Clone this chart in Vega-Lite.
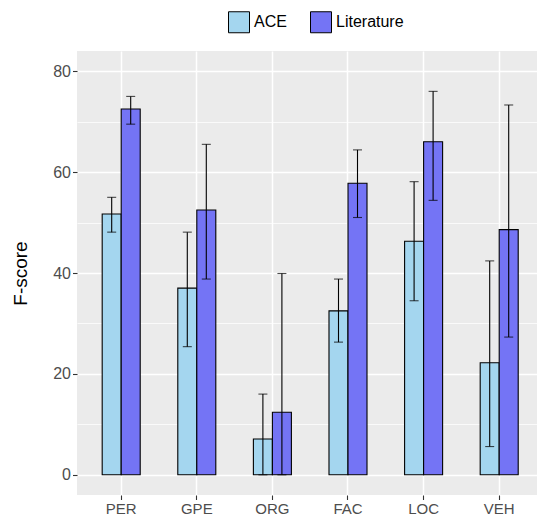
{
  "$schema": "https://vega.github.io/schema/vega-lite/v6.json",
  "autosize": {"type": "none"},
  "padding": {"left": 77, "top": 51, "right": 0, "bottom": 21},
  "width": 460,
  "height": 444,
  "background": "white",
  "config": {
    "view": {"fill": "#EBEBEB", "stroke": null},
    "font": "Liberation Sans"
  },
  "data": {
    "values": [
      {"cat": "PER", "src": "ACE", "f": 51.7, "lo": 48.1, "hi": 55.0},
      {"cat": "PER", "src": "Literature", "f": 72.5, "lo": 69.5, "hi": 75.0},
      {"cat": "GPE", "src": "ACE", "f": 37.0, "lo": 25.4, "hi": 48.1},
      {"cat": "GPE", "src": "Literature", "f": 52.5, "lo": 38.8, "hi": 65.5},
      {"cat": "ORG", "src": "ACE", "f": 7.1, "lo": 0.0, "hi": 16.0},
      {"cat": "ORG", "src": "Literature", "f": 12.4, "lo": 0.0, "hi": 39.9},
      {"cat": "FAC", "src": "ACE", "f": 32.5, "lo": 26.3, "hi": 38.8},
      {"cat": "FAC", "src": "Literature", "f": 57.8, "lo": 51.0, "hi": 64.4},
      {"cat": "LOC", "src": "ACE", "f": 46.3, "lo": 34.5, "hi": 58.1},
      {"cat": "LOC", "src": "Literature", "f": 66.0, "lo": 54.4, "hi": 76.0},
      {"cat": "VEH", "src": "ACE", "f": 22.2, "lo": 5.6, "hi": 42.4},
      {"cat": "VEH", "src": "Literature", "f": 48.6, "lo": 27.3, "hi": 73.3}
    ]
  },
  "encoding": {
    "x": {
      "field": "cat", "type": "nominal",
      "sort": ["PER", "GPE", "ORG", "FAC", "LOC", "VEH"],
      "scale": {"paddingInner": 0, "paddingOuter": 0.0423, "align": 1},
      "axis": {
        "title": null, "grid": true, "gridColor": "white", "gridWidth": 1.5,
        "domain": false, "tickColor": "#333333", "tickSize": 4.5, "tickWidth": 1.1,
        "labelFontSize": 15, "labelColor": "#4D4D4D", "labelPadding": 2, "labelAngle": 0
      }
    },
    "xOffset": {
      "field": "src", "type": "nominal",
      "scale": {"paddingInner": 0, "paddingOuter": 0.989}
    }
  },
  "layer": [
    {
      "mark": {"type": "bar", "stroke": "black", "strokeWidth": 1.1},
      "encoding": {
        "y": {
          "field": "f", "type": "quantitative",
          "scale": {"domain": [-4, 84], "nice": false, "zero": false},
          "axis": {
            "title": "F-score", "titleFontSize": 19, "titleFontWeight": "normal", "titleColor": "black",
            "titleX": -57, "titleY": 222, "titleAngle": -90, "titleAlign": "center", "titleBaseline": "middle",
            "values": [0, 10, 20, 30, 40, 50, 60, 70, 80],
            "labelExpr": "datum.value % 20 === 0 ? datum.label : ''",
            "grid": true, "gridColor": "white",
            "gridWidth": {"condition": {"test": "datum.value % 20 === 0", "value": 1.5}, "value": 0.75},
            "domain": false, "tickColor": "#333333", "tickSize": 4.5, "tickWidth": 1.1,
            "tickOpacity": {"condition": {"test": "datum.value % 20 === 0", "value": 1}, "value": 0},
            "labelFontSize": 16, "labelColor": "#4D4D4D", "labelPadding": 2
          }
        },
        "fill": {
          "field": "src", "type": "nominal",
          "scale": {"domain": ["ACE", "Literature"], "range": ["#A4D6EF", "#7474F5"]},
          "legend": {
            "title": null, "orient": "none", "direction": "horizontal",
            "legendX": 151, "legendY": -40, "padding": 0,
            "symbolType": "square", "symbolSize": 441, "symbolStrokeColor": "black", "symbolStrokeWidth": 1,
            "symbolOpacity": 1, "labelFontSize": 16, "labelColor": "black", "labelOffset": 4,
            "columnPadding": 21
          }
        }
      }
    },
    {
      "mark": {"type": "rule", "color": "black", "strokeWidth": 1.1},
      "encoding": {
        "y": {"field": "lo", "type": "quantitative"},
        "y2": {"field": "hi"}
      }
    },
    {
      "mark": {"type": "tick", "color": "black", "size": 9, "thickness": 1.1},
      "encoding": {"y": {"field": "lo", "type": "quantitative"}}
    },
    {
      "mark": {"type": "tick", "color": "black", "size": 9, "thickness": 1.1},
      "encoding": {"y": {"field": "hi", "type": "quantitative"}}
    }
  ]
}
